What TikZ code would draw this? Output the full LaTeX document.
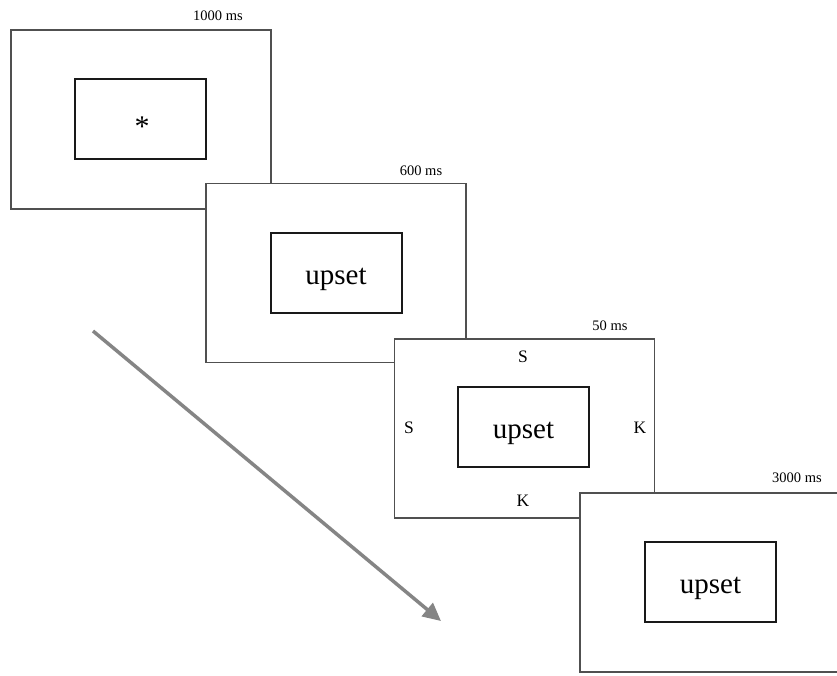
\documentclass[tikz,border=0pt]{standalone}
\usepackage{fontspec}
\setmainfont{Liberation Serif}
\usetikzlibrary{arrows.meta}
\definecolor{framegray}{HTML}{505050}
\definecolor{arrowgray}{HTML}{858585}
\begin{document}
\begin{tikzpicture}[x=1pt,y=-1pt,
  screen/.style={draw=framegray,line width=1.2pt,fill=white,rectangle,minimum width=260pt,minimum height=179pt,inner sep=0pt},
  stimbox/.style={draw=black!90,line width=2pt,fill=white,rectangle,minimum width=131pt,minimum height=80pt,inner sep=0pt},
  word/.style={font=\fontsize{29}{31}\selectfont,inner sep=0pt},
  timelbl/.style={font=\fontsize{14.5}{16}\selectfont,inner sep=0pt},
  flank/.style={font=\fontsize{17.5}{19}\selectfont,inner sep=0pt}]
\useasboundingbox (0,0) rectangle (837,675);
% frame 1
\node[screen] (f1) at (141,119.5) {};
\node[stimbox] (i1) at (140.5,119) {};
\node[font=\fontsize{30}{32}\selectfont,inner sep=0pt] (ast) at (142,127) {*};
\node[timelbl] (t1) at (218,16) {1000 ms};
% frame 2
\node[screen] (f2) at (336,273) {};
\node[stimbox] (i2) at (336,273) {};
\node[word] (w2) at (336,279) {upset};
\node[timelbl] (t2) at (421,171) {600 ms};
% frame 3
\node[screen] (f3) at (524.5,428.5) {};
\node[stimbox] (i3) at (523.5,427) {};
\node[word] (w3) at (523.5,433) {upset};
\node[flank] (st) at (523,357) {S};
\node[flank] (sl) at (409,428) {S};
\node[flank] (kr) at (640,428) {K};
\node[flank] (kb) at (523,501) {K};
\node[timelbl] (t3) at (610,326) {50 ms};
% frame 4
\node[screen] (f4) at (710,582.5) {};
\node[stimbox] (i4) at (710.5,582) {};
\node[word] (w4) at (710.5,588) {upset};
\node[timelbl] (t4) at (797,478) {3000 ms};
% time arrow
\coordinate (a0) at (93,331);
\coordinate (a1) at (441,621);
\draw[arrowgray,line width=3.5pt,-{Triangle[length=18pt,width=17pt]}] (a0) -- (a1);
\end{tikzpicture}
\end{document}
